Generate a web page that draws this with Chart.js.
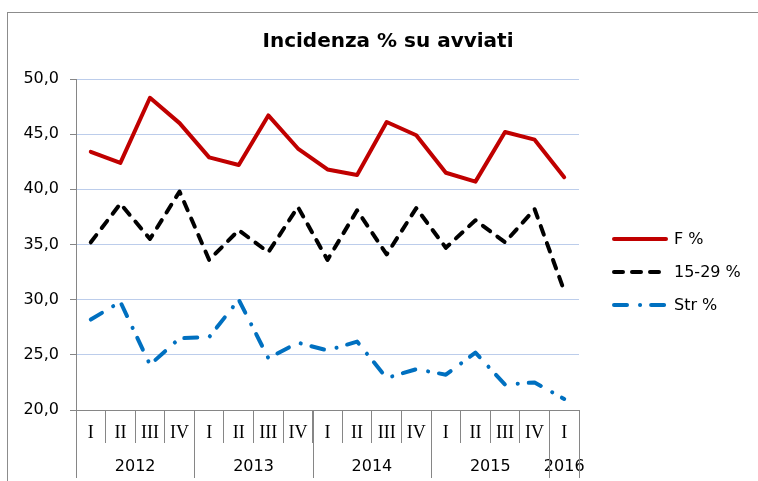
<!DOCTYPE html>
<html>
<head>
<meta charset="utf-8">
<script src="https://cdn.jsdelivr.net/npm/chart.js@4/dist/chart.umd.min.js"></script>
<style>
  html, body { margin: 0; padding: 0; background: #ffffff; }
  #wrap { position: relative; width: 758px; height: 481px; }
</style>
</head>
<body>
<div id="wrap"><canvas id="c" width="758" height="481"></canvas></div>
<script>
// ---- data ----
const quarters = ['I','II','III','IV','I','II','III','IV','I','II','III','IV','I','II','III','IV','I'];
const years = ['2012','2013','2014','2015','2016'];
const yearCounts = [4, 4, 4, 4, 1];
const seriesNames = ['F %', '15-29 %', 'Str %'];
const fPct =   [43.4, 42.4, 48.3, 46.0, 42.9, 42.2, 46.7, 43.7, 41.8, 41.3, 46.1, 44.9, 41.5, 40.7, 45.2, 44.5, 41.1];
const y1529 =  [35.2, 38.7, 35.5, 39.8, 33.6, 36.3, 34.3, 38.4, 33.6, 38.1, 34.1, 38.3, 34.7, 37.2, 35.2, 38.2, 30.8];
const strPct = [28.2, 29.8, 24.1, 26.5, 26.6, 30.0, 24.7, 26.1, 25.4, 26.2, 22.9, 23.7, 23.2, 25.2, 22.3, 22.5, 21.0];
const yMin = 20, yMax = 50, yStep = 5;
const chartTitle = 'Incidenza % su avviati';

const SANS = '"DejaVu Sans", Verdana, sans-serif';
const SERIF = '"Liberation Serif", "Times New Roman", serif';
const AXIS_GRAY = '#868686';

const styles = [
  { color: '#C00000', dash: [] },
  { color: '#000000', dash: [9, 9] },
  { color: '#0070C0', dash: [13, 13, 0.1, 11] }
];

const decorPlugin = {
  id: 'decor',
  beforeDraw(chart) {
    const ctx = chart.ctx;
    ctx.save();
    ctx.strokeStyle = '#8c8c8c';
    ctx.lineWidth = 1;
    ctx.strokeRect(7.5, 12.5, 900, 600);
    ctx.restore();
  },
  afterDraw(chart) {
    const ctx = chart.ctx;
    const xs = chart.scales.x;
    const area = chart.chartArea;
    ctx.save();
    // title
    ctx.fillStyle = '#000';
    ctx.font = 'bold 20px ' + SANS;
    ctx.textAlign = 'center';
    ctx.textBaseline = 'middle';
    ctx.fillText(chartTitle, 388, 42);
    // year groups
    const half = (xs.getPixelForValue(1) - xs.getPixelForValue(0)) / 2;
    ctx.strokeStyle = AXIS_GRAY;
    ctx.lineWidth = 1;
    ctx.font = '16px ' + SANS;
    let idx = 0;
    const bounds = [xs.getPixelForValue(0) - half];
    years.forEach((yr, i) => {
      const first = idx, last = idx + yearCounts[i] - 1;
      const left = xs.getPixelForValue(first) - half;
      const right = xs.getPixelForValue(last) + half;
      bounds.push(right);
      ctx.fillText(yr, (left + right) / 2, 467);
      idx += yearCounts[i];
    });
    bounds.forEach(b => {
      const xx = Math.round(b) + 0.5;
      ctx.beginPath();
      ctx.moveTo(xx, area.bottom);
      ctx.lineTo(xx, 478);
      ctx.stroke();
    });
    // legend
    const rows = [239, 272, 305];
    seriesNames.forEach((name, i) => {
      const y = rows[i];
      ctx.beginPath();
      ctx.strokeStyle = styles[i].color;
      ctx.lineWidth = 4;
      ctx.lineCap = 'round';
      ctx.setLineDash(styles[i].dash);
      ctx.moveTo(614, y);
      ctx.lineTo(666, y);
      ctx.stroke();
      ctx.setLineDash([]);
      ctx.fillStyle = '#000';
      ctx.textAlign = 'left';
      ctx.font = '16px ' + SANS;
      ctx.fillText(name, 674, y + 1);
    });
    ctx.restore();
  }
};

const datasets = [fPct, y1529, strPct].map((d, i) => ({
  label: seriesNames[i],
  data: d,
  borderColor: styles[i].color,
  backgroundColor: styles[i].color,
  borderWidth: 4,
  borderDash: styles[i].dash,
  borderCapStyle: 'round',
  borderJoinStyle: 'round',
  pointRadius: 0,
  tension: 0,
  fill: false
}));

new Chart(document.getElementById('c'), {
  type: 'line',
  data: { labels: quarters, datasets },
  options: {
    responsive: false,
    animation: false,
    devicePixelRatio: 1,
    layout: { padding: { top: 79, right: 179, bottom: 0, left: 0 } },
    plugins: { legend: { display: false }, title: { display: false }, tooltip: { enabled: false } },
    scales: {
      x: {
        type: 'category',
        offset: true,
        grid: { offset: true, drawOnChartArea: false, drawTicks: true, tickLength: 33, tickColor: AXIS_GRAY, color: AXIS_GRAY },
        border: { color: AXIS_GRAY, width: 1 },
        ticks: { autoSkip: false, maxRotation: 0, minRotation: 0, padding: -21, color: '#000', font: { family: SERIF, size: 18 } },
        afterFit(s) { s.height = 71; }
      },
      y: {
        min: yMin, max: yMax,
        grid: { color: '#bccdeb', tickColor: AXIS_GRAY, tickLength: 6, lineWidth: 1 },
        border: { color: AXIS_GRAY, width: 1 },
        ticks: {
          stepSize: yStep, padding: 11, color: '#000',
          font: { family: SANS, size: 16 },
          callback: v => v.toFixed(1).replace('.', ',')
        },
        afterFit(s) { s.height = s.height; s.width = 76; }
      }
    }
  },
  plugins: [decorPlugin]
});
</script>
</body>
</html>
